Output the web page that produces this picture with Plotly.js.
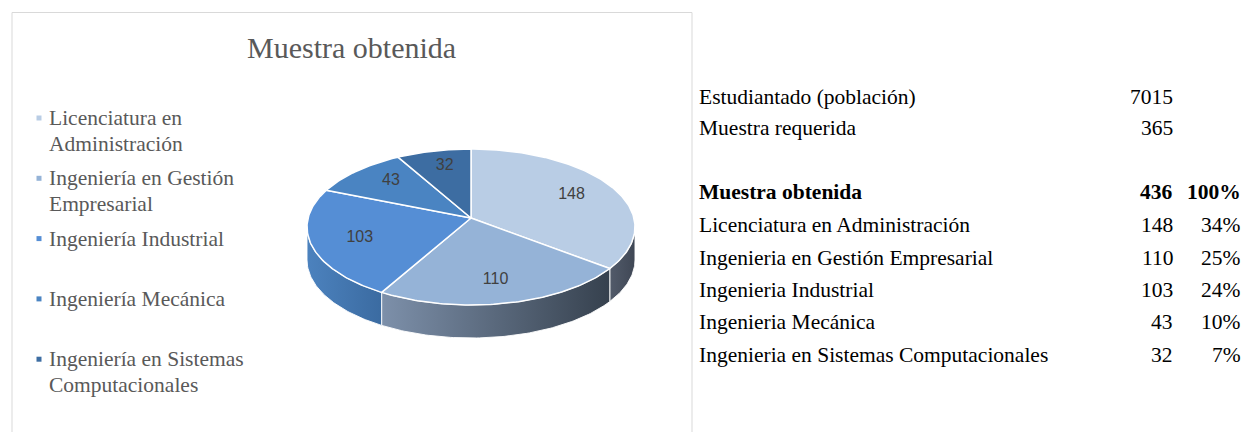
<!DOCTYPE html>
<html><head><meta charset="utf-8">
<script src="https://cdn.plot.ly/plotly-3.0.1.min.js"></script>
<style>html,body{margin:0;padding:0;background:#fff}#chart{width:1247px;height:432px}</style>
</head><body><div id="chart"></div>
<script>
// ---- data ----
const categories = ['Licenciatura en Administración','Ingeniería en Gestión Empresarial','Ingeniería Industrial','Ingeniería Mecánica','Ingeniería en Sistemas Computacionales'];
const values = [148, 110, 103, 43, 32];
const legendLines = [['Licenciatura en','Administración'],['Ingeniería en Gestión','Empresarial'],['Ingeniería Industrial'],['Ingeniería Mecánica'],['Ingeniería en Sistemas','Computacionales']];
const tableLabels = ['Licenciatura en Administración','Ingenieria en Gestión Empresarial','Ingenieria Industrial','Ingenieria Mecánica','Ingenieria en Sistemas Computacionales'];
const percents = ['34%','25%','24%','10%','7%'];
const summaryLabels = ['Estudiantado (población)','Muestra requerida','Muestra obtenida'];
const summaryValues = [7015, 365, 436];
const summaryPercent = '100%';
const chartTitle = 'Muestra obtenida';

// ---- styles ----
const topColors = ['#b9cde5','#95b3d7','#558ed5','#4a84c2','#3d6da2'];
const sideColors = [['#525b6a','#3f4755'],['#7d90aa','#36414e'],['#4c82be','#3b6ba1'],['#3f6fa5','#33598a'],['#345d8c','#2a4a72']];
const legendColors = topColors;
const serif = '"Liberation Serif", "Times New Roman", serif';
const cx = 471, cy = 227, A = 164, B = 78, depth = 33, vx = 471, vy = 218;

const total = values.reduce((s,v)=>s+v,0);
const traces = [];
const deg = Math.PI/180;
const px = t => cx + A*Math.sin(t*deg);
const py = t => cy - B*Math.cos(t*deg);

// cumulative angles
const starts = [], ends = [];
let acc = 0;
values.forEach(v => { starts.push(acc/total*360); acc += v; ends.push(acc/total*360); });

// side walls (visible between 90 and 270 degrees)
values.forEach((v,i) => {
  const s = Math.max(starts[i], 90), e = Math.min(ends[i], 270);
  if (e <= s) return;
  const xs = [], ys = [];
  const n = Math.max(2, Math.ceil(e - s));
  for (let k=0;k<=n;k++){ const t = s + (e-s)*k/n; xs.push(px(t)); ys.push(py(t)); }
  for (let k=n;k>=0;k--){ const t = s + (e-s)*k/n; xs.push(px(t)); ys.push(py(t)+depth); }
  xs.push(xs[0]); ys.push(ys[0]);
  traces.push({type:'scatter', mode:'lines', x:xs, y:ys, fill:'toself',
    fillgradient:{type:'horizontal', colorscale:[[0,sideColors[i][0]],[1,sideColors[i][1]]]},
    line:{color:'rgba(255,255,255,0.9)', width:1}, hoverinfo:'skip', showlegend:false});
});

// top face slices
values.forEach((v,i) => {
  const xs = [vx], ys = [vy];
  const s = starts[i], e = ends[i];
  const n = Math.max(2, Math.ceil(e - s));
  for (let k=0;k<=n;k++){ const t = s + (e-s)*k/n; xs.push(px(t)); ys.push(py(t)); }
  xs.push(vx); ys.push(vy);
  traces.push({type:'scatter', mode:'lines', x:xs, y:ys, fill:'toself', fillcolor:topColors[i],
    line:{color:'#ffffff', width:1.5}, hoverinfo:'skip', showlegend:false});
});

// data labels
const lx = [], ly = [];
values.forEach((v,i) => {
  const m = (starts[i]+ends[i])/2;
  lx.push(cx + 0.7*A*Math.sin(m*deg));
  ly.push(cy - 4 - 0.75*B*Math.cos(m*deg));
});
traces.push({type:'scatter', mode:'text', x:lx, y:ly, text:values.map(String),
  textfont:{family:'"Liberation Sans", Arial, sans-serif', size:16, color:'#404040'},
  hoverinfo:'skip', showlegend:false});

// legend markers
const legY = categories.map((c,i) => 118 + i*60.3);
traces.push({type:'scatter', mode:'markers', x:categories.map(()=>39), y:legY,
  marker:{symbol:'square', size:5, color:legendColors}, hoverinfo:'skip', showlegend:false});

const annotations = [];
annotations.push({x:351, y:47, xref:'x', yref:'y', text:chartTitle, showarrow:false,
  xanchor:'center', yanchor:'middle', font:{family:serif, size:30, color:'#595959'}});
legendLines.forEach((lines,i) => lines.forEach((ln,j) => {
  annotations.push({x:47, y:legY[i] + j*26, xref:'x', yref:'y', text:ln, showarrow:false,
    xanchor:'left', yanchor:'middle', font:{family:serif, size:21.5, color:'#595959'}});
}));

// table
const rowY = [97, 128, 192, 225, 258, 290, 322, 355];
const tfont = {family:serif, size:21.5, color:'#000000'};
summaryLabels.forEach((lab,i) => {
  const bold = i === 2;
  annotations.push({x:697, y:rowY[i], xref:'x', yref:'y', text: bold ? '<b>'+lab+'</b>' : lab, showarrow:false, xanchor:'left', yanchor:'middle', font:tfont});
  annotations.push({x:1175, y:rowY[i], xref:'x', yref:'y', text: bold ? '<b>'+summaryValues[i]+'</b>' : String(summaryValues[i]), showarrow:false, xanchor:'right', yanchor:'middle', font:tfont});
});
annotations.push({x:1243, y:rowY[2], xref:'x', yref:'y', text:'<b>'+summaryPercent+'</b>', showarrow:false, xanchor:'right', yanchor:'middle', font:tfont});
tableLabels.forEach((lab,i) => {
  const y = rowY[3+i];
  annotations.push({x:697, y:y, xref:'x', yref:'y', text:lab, showarrow:false, xanchor:'left', yanchor:'middle', font:tfont});
  annotations.push({x:1175, y:y, xref:'x', yref:'y', text:String(values[i]), showarrow:false, xanchor:'right', yanchor:'middle', font:tfont});
  annotations.push({x:1243, y:y, xref:'x', yref:'y', text:percents[i], showarrow:false, xanchor:'right', yanchor:'middle', font:tfont});
});

const layout = {
  width:1247, height:432, margin:{l:0,r:0,t:0,b:0},
  paper_bgcolor:'#ffffff', plot_bgcolor:'#ffffff',
  xaxis:{range:[0,1247], visible:false, fixedrange:true},
  yaxis:{range:[432,0], visible:false, fixedrange:true},
  showlegend:false,
  shapes:[{type:'rect', xref:'x', yref:'y', x0:12, y0:12.5, x1:692, y1:445, line:{color:'#d9d9d9', width:1}}],
  annotations: annotations
};
Plotly.newPlot('chart', traces, layout, {staticPlot:true, displayModeBar:false});
</script>
</body></html>
